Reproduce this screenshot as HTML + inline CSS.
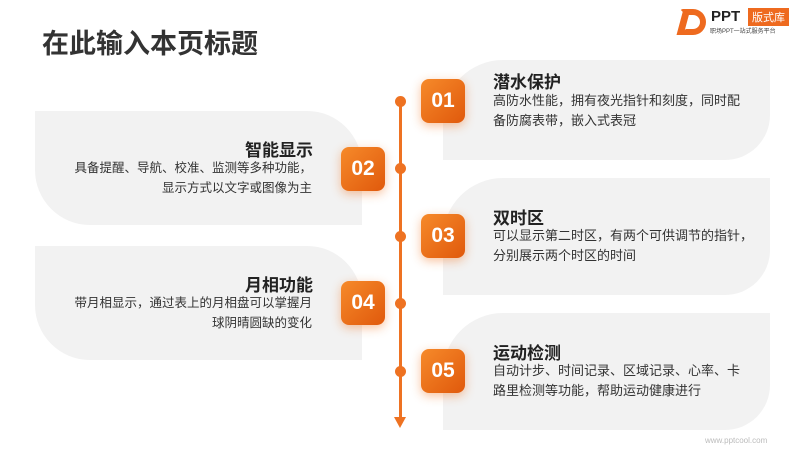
<!DOCTYPE html>
<html><head><meta charset="utf-8"><style>
body{margin:0;width:800px;height:450px;background:#fff;position:relative;overflow:hidden;font-family:"Liberation Sans","Noto Sans CJK SC",sans-serif;}
.a{position:absolute}
.p{position:absolute;background:#f2f2f2}
.r{border-top-left-radius:60px;border-bottom-right-radius:45px}
.l{border-top-right-radius:55px;border-bottom-left-radius:55px}
.b{position:absolute;width:44px;height:44px;border-radius:8px;background:linear-gradient(135deg,#f68a2a,#e0590c);color:#fff;font-weight:bold;font-size:21px;text-align:center;line-height:44px;box-shadow:0 3px 10px rgba(240,120,40,.45)}
.t{position:absolute;font-weight:bold;font-size:17px;color:#222}
.d{position:absolute;font-size:13px;color:#333;line-height:20px}
.dl{position:absolute;font-size:12.5px;color:#333;line-height:20px;text-align:right;right:488px;white-space:nowrap}
.dot{position:absolute;width:11px;height:11px;border-radius:50%;background:#ee7222;left:395px}
</style></head><body>
<div class="a" style="left:42px;top:22px;font-size:27px;font-weight:bold;color:#333">在此输入本页标题</div>
<div class="a" style="left:680px;top:9px;width:14px;height:14px;border:6px solid #ee6a1f;border-radius:3px 13px 13px 3px;border-left-color:transparent"></div>
<div class="a" style="left:680px;top:9px;width:7px;height:26px;background:#ee6a1f;transform:skewX(-15deg)"></div>
<div class="a" style="left:711px;top:8px;font-weight:bold;font-size:15px;color:#222">PPT</div>
<div class="a" style="left:748px;top:8px;background:#ee6a1f;color:#fff;font-size:11px;padding:1px 4px">版式库</div>
<div class="a" style="left:710px;top:26px;font-size:6px;color:#444">职场PPT一站式服务平台</div>

<div class="p r" style="left:443px;top:60px;width:327px;height:100px"></div>
<div class="p l" style="left:35px;top:111px;width:327px;height:114px"></div>
<div class="p r" style="left:443px;top:178px;width:327px;height:117px"></div>
<div class="p l" style="left:35px;top:246px;width:327px;height:114px"></div>
<div class="p r" style="left:443px;top:313px;width:327px;height:117px"></div>

<div class="a" style="left:399px;top:101px;width:3px;height:318px;background:#ee7222"></div>
<div class="a" style="left:394px;top:417px;width:0;height:0;border-left:6.5px solid transparent;border-right:6.5px solid transparent;border-top:11px solid #ee7222"></div>
<div class="dot" style="top:96px"></div><div class="dot" style="top:163px"></div><div class="dot" style="top:231px"></div><div class="dot" style="top:298px"></div><div class="dot" style="top:366px"></div>

<div class="b" style="left:421px;top:79px">01</div>
<div class="b" style="left:341px;top:147px">02</div>
<div class="b" style="left:421px;top:214px">03</div>
<div class="b" style="left:341px;top:281px">04</div>
<div class="b" style="left:421px;top:349px">05</div>

<div class="t" style="left:493px;top:68px">潜水保护</div>
<div class="d" style="left:493px;top:91px">高防水性能，拥有夜光指针和刻度，同时配<br>备防腐表带，嵌入式表冠</div>
<div class="t" style="left:493px;top:204px">双时区</div>
<div class="d" style="left:493px;top:226px">可以显示第二时区，有两个可供调节的指针，<br>分别展示两个时区的时间</div>
<div class="t" style="left:493px;top:339px">运动检测</div>
<div class="d" style="left:493px;top:361px">自动计步、时间记录、区域记录、心率、卡<br>路里检测等功能，帮助运动健康进行</div>

<div class="t" style="right:487px;top:136px;text-align:right">智能显示</div>
<div class="dl" style="top:158px">具备提醒、导航、校准、监测等多种功能，<br>显示方式以文字或图像为主</div>
<div class="t" style="right:487px;top:271px;text-align:right">月相功能</div>
<div class="dl" style="top:293px">带月相显示，通过表上的月相盘可以掌握月<br>球阴晴圆缺的变化</div>

<div class="a" style="left:705px;top:436px;font-size:8px;color:#bbb">www.pptcool.com</div>
</body></html>
